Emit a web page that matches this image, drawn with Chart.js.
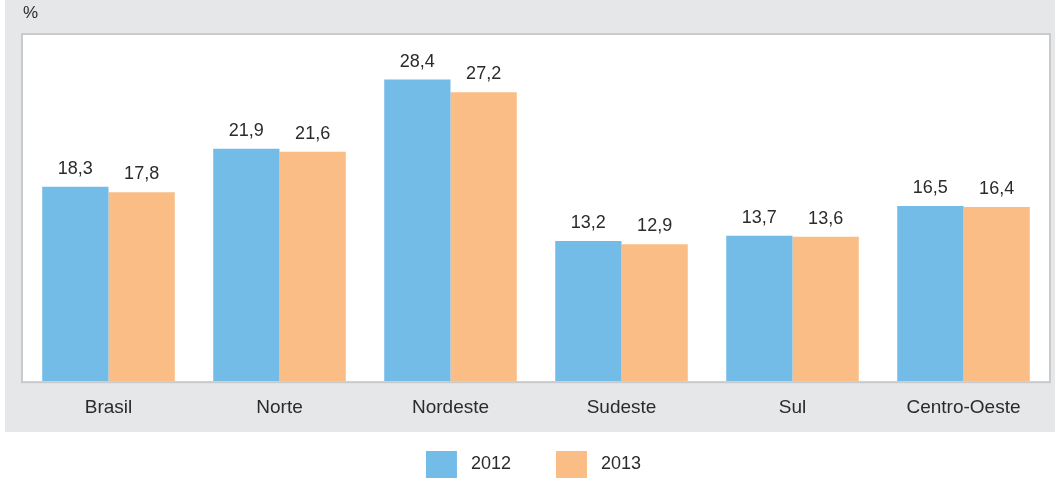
<!DOCTYPE html>
<html><head><meta charset="utf-8">
<script src="https://cdn.jsdelivr.net/npm/chart.js@4/dist/chart.umd.min.js"></script>
<style>
html,body{margin:0;padding:0;background:#fff;overflow:hidden;}
#wrap{position:relative;width:1055px;height:478px;}
#panel{position:absolute;left:5px;top:0;width:1050px;height:432px;background:#e6e7e9;}
canvas{position:absolute;left:0;top:0;}
</style></head><body>
<div id="wrap"><div id="panel"></div><canvas id="c" width="1055" height="478"></canvas></div>
<script>
const categories = ['Brasil', 'Norte', 'Nordeste', 'Sudeste', 'Sul', 'Centro-Oeste'];
const seriesNames = ['2012', '2013'];
const values2012 = [18.3, 21.9, 28.4, 13.2, 13.7, 16.5];
const values2013 = [17.8, 21.6, 27.2, 12.9, 13.6, 16.4];
const unitLabel = '%';

const FONT = "'Liberation Sans', Arial, Helvetica, sans-serif";
const TEXT = '#2b2b2b';
Chart.defaults.font.family = FONT;
Chart.defaults.color = TEXT;

const plotBg = {
  id: 'plotBg',
  beforeDraw(chart) {
    const {ctx, chartArea: a} = chart;
    ctx.save();
    ctx.fillStyle = '#ffffff';
    ctx.fillRect(a.left, a.top, a.right - a.left, a.bottom - a.top);
    ctx.strokeStyle = '#c9cacc';
    ctx.lineWidth = 2;
    ctx.strokeRect(a.left - 1, a.top - 1, a.right - a.left + 2, a.bottom - a.top + 2);
    ctx.fillStyle = TEXT;
    ctx.font = "17px " + FONT;
    ctx.textAlign = 'left';
    ctx.textBaseline = 'alphabetic';
    ctx.fillText(unitLabel, 23, 18);
    ctx.restore();
  }
};

const valueLabels = {
  id: 'valueLabels',
  afterDatasetsDraw(chart) {
    const {ctx} = chart;
    ctx.save();
    ctx.fillStyle = TEXT;
    ctx.font = "18px " + FONT;
    ctx.textAlign = 'center';
    ctx.textBaseline = 'alphabetic';
    chart.data.datasets.forEach((ds, i) => {
      const meta = chart.getDatasetMeta(i);
      meta.data.forEach((bar, j) => {
        const txt = ds.data[j].toFixed(1).replace('.', ',');
        ctx.fillText(txt, bar.x, bar.y - 13);
      });
    });
    ctx.restore();
  }
};

new Chart(document.getElementById('c'), {
  type: 'bar',
  data: {
    labels: categories,
    datasets: [
      { label: seriesNames[0], data: values2012, backgroundColor: '#73bce7', borderWidth: 0 },
      { label: seriesNames[1], data: values2013, backgroundColor: '#f9bd85', borderWidth: 0 }
    ]
  },
  options: {
    responsive: false,
    animation: false,
    devicePixelRatio: 1,
    layout: { padding: { left: 23, right: 6, top: 35, bottom: -10 } },
    datasets: { bar: { categoryPercentage: 0.775, barPercentage: 1.0 } },
    scales: {
      x: {
        grid: { display: false },
        border: { display: false },
        ticks: { font: { size: 19 }, color: TEXT, padding: 7 }
      },
      y: { display: false, min: 0, max: 32.6 }
    },
    plugins: {
      tooltip: { enabled: false },
      title: { display: false },
      legend: {
        position: 'bottom',
        labels: {
          boxWidth: 31,
          boxHeight: 27,
          padding: 25,
          font: { size: 18 },
          color: TEXT,
          generateLabels(chart) {
            const items = Chart.defaults.plugins.legend.labels.generateLabels(chart);
            items.forEach((it, i) => {
              it.text = ' ' + it.text + (i < items.length - 1 ? '    ' : ' ');
              it.lineWidth = 0;
            });
            return items;
          }
        }
      }
    }
  },
  plugins: [plotBg, valueLabels]
});
</script>
</body></html>
